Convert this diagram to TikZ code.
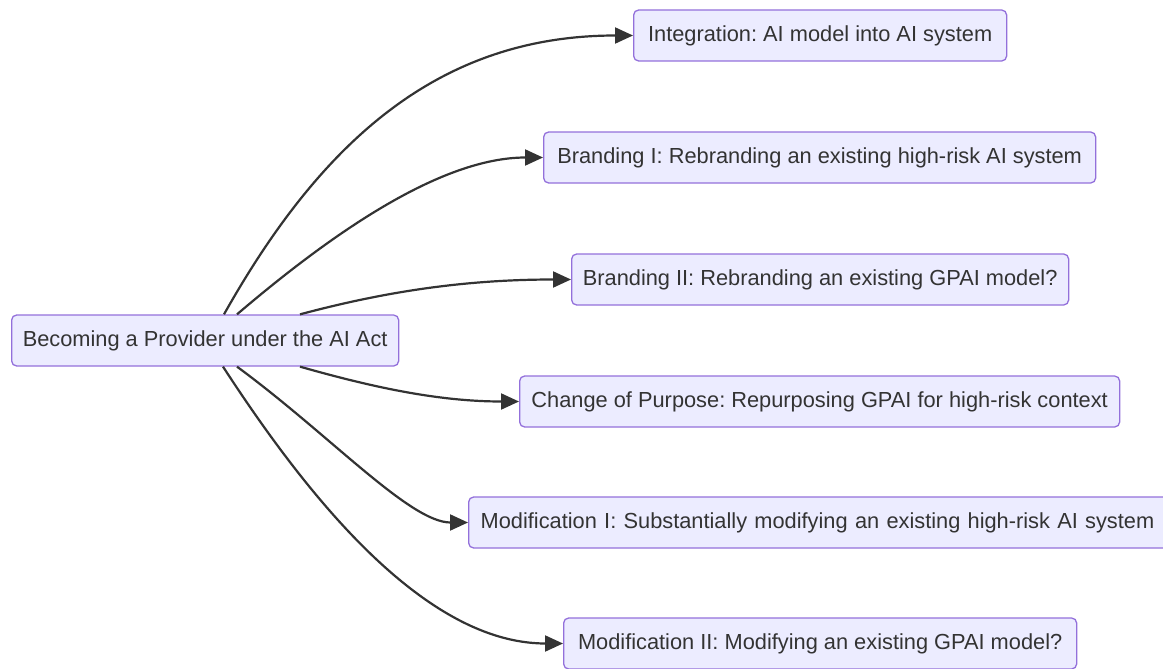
\documentclass[tikz,border=0pt]{standalone}
\usepackage{fontspec}
\setmainfont{Liberation Sans}
\usetikzlibrary{arrows.meta,calc}
\definecolor{boxfill}{HTML}{ECECFF}
\definecolor{boxline}{HTML}{9370DB}
\definecolor{ink}{HTML}{333333}
\tikzset{
  box/.style={draw=boxline, fill=boxfill, line width=1.3pt, rounded corners=5pt,
    minimum height=51pt, inner xsep=10pt, inner ysep=0pt, anchor=west,
    text=ink, font=\fontsize{21.8}{24}\selectfont},
  link/.style={draw=ink, line width=2.2pt, -{Triangle[length=18pt,width=16pt]}}
}
\frenchspacing
\begin{document}
\begin{tikzpicture}[x=1pt,y=-1pt]
\useasboundingbox (0,0) rectangle (1163,669);
\node[box, minimum width=387pt] (src) at (11,340.5) {Becoming a Provider under the AI Act};
\node[box, minimum width=373pt] (int) at (633,35.5) {Integration: AI model into AI system};
\node[box, minimum width=552pt] (b1) at (543,157.5) {Branding I: Rebranding an existing high-risk AI system};
\node[box, minimum width=497pt] (b2) at (571,279.5) {Branding II: Rebranding an existing GPAI model?};
\node[box, minimum width=600pt] (cp) at (519,401.5) {Change of Purpose: Repurposing GPAI for high-risk context};
\node[box, inner xsep=12pt, text width=686pt, align=left] (m1) at (468,522.5) {Modification I: Substantially modifying an existing high-risk AI system};
\node[box, minimum width=513pt] (m2) at (563,643.5) {Modification II: Modifying an existing GPAI model?};
\coordinate (s1) at ($(src.north west)+(213,0)$);
\coordinate (s2) at ($(src.north west)+(226,0)$);
\coordinate (s3) at ($(src.north west)+(289,0)$);
\coordinate (s4) at ($(src.south west)+(289,0)$);
\coordinate (s5) at ($(src.south west)+(226,0)$);
\coordinate (s6) at ($(src.south west)+(212,0)$);
\draw[link] (s1) .. controls (322,140) and (440,35.5) .. (int.west);
\draw[link] (s2) .. controls (330,235) and (440,157.5) .. (b1.west);
\draw[link] (s3) .. controls (380,293) and (460,279.5) .. (b2.west);
\draw[link] (s4) .. controls (375,388) and (440,401.5) .. (cp.west);
\draw[link] (s5) .. controls (330,435) and (410,522.5) .. (m1.west);
\draw[link] (s6) .. controls (300,485) and (420,643.5) .. (m2.west);
\end{tikzpicture}
\end{document}
